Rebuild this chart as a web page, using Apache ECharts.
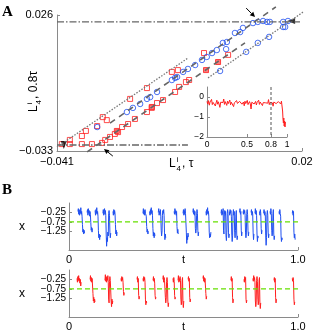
<!DOCTYPE html>
<html>
<head>
<meta charset="UTF-8">
<title>L4 scatter and x(t) traces</title>
<script src="https://cdn.jsdelivr.net/npm/echarts@6/dist/echarts.min.js"></script>
<style>
  html, body { margin: 0; padding: 0; background: #fff; }
  #chart { width: 332px; height: 336px; }
</style>
</head>
<body>
<div id="chart"></div>
<script>
// ---------- panel A : main scatter ----------
const mainXTicks = [-0.041, 0.02];
const mainYTicks = [-0.033, 0.026];

// open red squares, upper branch (along upper dotted line)
const redUpper = [
  [-0.0398, -0.0300], [-0.0378, -0.0282], [-0.0348, -0.0265], [-0.0338, -0.0243],
  [-0.0310, -0.0222], [-0.0296, -0.0183], [-0.0286, -0.0196], [-0.0228, -0.0104],
  [-0.0186, -0.0057], [-0.0124, 0.0013], [-0.0109, 0.0021], [-0.0044, 0.0095],
  [0.0016, 0.0087]
];
// open red squares, lower branch
const redLower = [
  [-0.0378, -0.0300], [-0.0348, -0.0300], [-0.0323, -0.0300], [-0.0298, -0.0295],
  [-0.0290, -0.0282], [-0.0278, -0.0269], [-0.0266, -0.0256], [-0.0258, -0.0248],
  [-0.0248, -0.0226], [-0.0233, -0.0213], [-0.0216, -0.0191], [-0.0186, -0.0161],
  [-0.0174, -0.0143], [-0.0161, -0.0122], [-0.0146, -0.0109], [-0.0116, -0.0074],
  [-0.0106, -0.0052], [-0.0089, -0.0031], [-0.0081, -0.0022]
];
// filled red squares
const redFilled = [
  [-0.0261, -0.0243], [-0.0174, -0.0139], [-0.0039, 0.0021], [-0.0009, 0.0056]
];
// open blue circles, upper branch
const blueUpper = [
  [-0.0310, -0.0226], [-0.0236, -0.0161], [-0.0221, -0.0143], [-0.0203, -0.0126],
  [-0.0186, -0.0104], [-0.0178, -0.0096], [-0.0161, -0.0074], [-0.0124, -0.0022],
  [-0.0116, -0.0013], [-0.0111, -0.0009], [-0.0096, 0.0013], [-0.0084, 0.0026],
  [-0.0066, 0.0043], [-0.0049, 0.0065], [-0.0037, 0.0078], [-0.0024, 0.0095],
  [-0.0012, 0.0108], [0.0003, 0.0139], [0.0013, 0.0143], [0.0011, 0.0112],
  [0.0033, 0.0182], [0.0046, 0.0186], [0.0053, 0.0204], [0.0078, 0.0225],
  [0.0090, 0.0230], [0.0103, 0.0234], [0.0113, 0.0230], [0.0120, 0.0230],
  [0.0153, 0.0230], [0.0165, 0.0234], [0.0158, 0.0208]
];
// open blue circles, lower branch
const blueLower = [
  [-0.0004, 0.0017], [0.0061, 0.0100], [0.0090, 0.0139], [0.0118, 0.0165], [0.0153, 0.0208]
];

// reference lines (end points in data units)
const dashDotTop = [[-0.041, 0.0230], [0.0195, 0.0230]];
const dashDotBottom = [[-0.041, -0.0304], [-0.0084, -0.0304]];
const dottedUpper = [[-0.041, -0.0313], [-0.0084, 0.0073]];
const dashedMiddle = [[-0.0278, -0.0209], [0.0135, 0.0295]];
const dashedLower = [[-0.0335, -0.0334], [0.0058, 0.0139]];
const dottedLower = [[-0.0034, -0.0013], [0.0217, 0.0290]];

// black arrowheads [x, y, rotation deg]
const blackHeads = [[0.0173, 0.0234, 90], [-0.0393, -0.0304, 180]];
// annotation arrows [x1, y1, x2, y2]
const arrows = [
  [0.0061, 0.0290, 0.0083, 0.0251],
  [-0.0271, -0.0352, -0.0293, -0.0321]
];

// ---------- inset ----------
const insetXTicks = [0, 0.5, 0.8, 1];
const insetYTicks = [-2, -1, 0];
const insetMarkT = 0.8;
const insetVals = [
  -0.22, -0.35, -0.18, -0.41, -0.25, -0.30, -0.12, -0.38, -0.27, -0.33,
  -0.20, -0.45, -0.29, -0.16, -0.36, -0.24, -0.31, -0.52, -0.26, -0.19,
  -0.34, -0.28, -0.10, -0.37, -0.23, -0.30, -0.42, -0.21, -0.33, -0.27,
  -0.15, -0.39, -0.26, -0.31, -0.20, -0.48, -0.29, -0.24, -0.35, -0.18,
  -0.32, -0.26, -0.40, -0.22, -0.30, -0.14, -0.36, -0.28, -0.25, -0.44,
  -0.21, -0.33, -0.27, -0.17, -0.38, -0.29, -0.23, -0.34, -0.60, -0.26,
  -0.31, -0.19, -0.35, -0.28, -0.22, -0.40, -0.27, -0.32, -0.16, -0.37,
  -0.25, -0.30, -0.21, -0.43, -0.28, -0.34, -0.20, -0.29, -0.36, -0.24,
  -0.31, -0.13, -0.38, -0.27, -0.22, -0.35, -0.29, -0.46, -0.25, -0.30,
  -0.18, -0.33, -0.27, -0.39, -0.23, -0.31, -0.26, -0.35, -0.21, -0.30
];
const insetTail = [
  [0.945, -0.70], [0.950, -1.10], [0.955, -1.30], [0.960, -1.05],
  [0.965, -1.45], [0.970, -1.20], [0.975, -1.50], [0.980, -1.25]
];

// ---------- panel B : x(t) traces ----------
const bYTicks = [-1.25, -0.75, -0.25];
const bYLabelsOuter = [-1.25, -0.25];
const bYLabelsMid = [-0.75];
const bXTicks = [0, 1];
const threshold = -0.75;
const burstStep = 0.0018; // sampling step inside a burst

// [start t, sampled x values]
const blueBursts = [
  [0.039, [-0.2, -0.05, -0.35, -0.1, -0.4, -0.15, -0.3, 0.0, -0.35, -0.2, -0.45, -0.9, -1.3, -1.15, -1.4, -1.2, -1.35]],
  [0.079, [-0.25, -0.1, -0.4, -0.05, -0.3, -0.15, -0.45, -0.2, -0.35, -0.8, -1.2, -1.05, -1.3, -1.1]],
  [0.114, [-0.15, -0.4, -0.1, -0.3, 0.0, -0.35, -0.2, -0.45, -1.2, -1.6, -1.4, -1.7, -1.45, -1.55]],
  [0.148, [-0.3, -0.1, -0.4, -0.2, -0.05, -0.35, -0.15, -0.4, -1.4, -2.05, -1.6, -1.8, -1.3, -1.5, -0.3, -0.15, -0.4, -1.3, -1.6, -1.35]],
  [0.192, [-0.2, -0.4, -0.1, -0.35, -0.15, -0.3, -0.9, -1.4, -1.2, -1.5, -1.3]],
  [0.323, [-0.3, -0.05, -0.35, -0.15, -0.4, -0.1, -0.3, -0.2, -0.45, -1.0, -1.3, -1.15, -1.4, -1.25]],
  [0.352, [-0.2, -0.4, -0.1, -0.35, 0.0, -0.3, -0.15, -0.4, -1.1, -1.5, -1.3, -1.6, -1.35, -1.5]],
  [0.390, [-0.25, -0.05, -0.4, -0.2, -0.35, -0.1, -0.45, -1.2, -1.5, -1.3, -0.4, -0.15, -0.3, -0.1, -0.4, -1.3, -1.7, -1.4, -1.6]],
  [0.459, [-0.2, -0.35, -0.05, -0.3, -0.15, -0.4, -0.2, -1.0, -1.35, -1.15, -1.4]],
  [0.498, [-0.3, -0.1, -0.4, -0.15, -0.35, -0.05, -0.3, -0.2, -1.3, -1.9, -1.5, -1.7, -1.35, -1.55]],
  [0.541, [-0.25, -0.05, -0.35, -0.15, -0.4, -0.2, -1.1, -1.35, -1.2, -0.4, -0.1, -0.3, -1.2, -1.5, -1.3]],
  [0.598, [-0.2, -0.4, -0.1, -0.3, 0.0, -0.35, -0.2, -0.45, -1.3, -1.6, -1.4, -1.55, -1.3]],
  [0.664, [-0.3, -0.1, -0.4, -0.2, -0.35, -0.05, -1.2, -1.4, -0.35, -0.15, -0.4, -0.2, -1.5, -1.75, -1.3, -0.3, -0.1, -0.35, -1.3, -1.6, -1.4]],
  [0.700, [-0.2, -0.4, -0.1, -0.3, -0.15, -0.45, -1.4, -1.8, -1.5, -0.3, -0.1, -0.4, -0.2, -1.3, -1.6, -1.2, -0.35, -0.15, -1.4, -1.7, -1.5]],
  [0.745, [-0.25, -0.05, -0.35, -0.2, -1.2, -1.5, -1.3]],
  [0.760, [-0.2, -0.35, -0.1, -0.3, -0.15, -0.4, -1.3, -1.6, -1.4, -0.3, -0.1, -0.35, -1.2, -1.5, -1.3]],
  [0.795, [-0.25, -0.1, -0.4, -0.2, -0.35, -1.3, -1.7, -1.4]],
  [0.812, [-0.3, -0.05, -0.35, -0.15, -0.4, -1.4, -1.8, -1.5, -1.6]],
  [0.832, [-0.2, -0.4, -0.1, -0.3, -1.1, -1.4, -1.2]],
  [0.850, [-0.3, -0.1, -0.4, -0.2, -0.35, -1.5, -2.0, -1.6, -0.35, -0.15, -0.4, -1.3, -1.6, -1.4]],
  [0.878, [-0.2, -0.35, -0.05, -0.3, -1.2, -1.5, -1.3, -0.3, -0.1, -1.4, -1.7, -1.5]],
  [0.917, [-0.2, -0.35, -0.1, -0.3, -0.45, -1.5, -1.8, -1.6, -1.7]],
  [0.975, [-0.3, -0.15, -0.4, -0.2, -1.3, -1.6, -1.4, -1.7]]
];

const redBursts = [
  [0.035, [-0.2, -0.4, -0.1, -0.3, -0.05, -0.35, -0.2, -0.45, -0.25, -0.6, -0.4]],
  [0.092, [-0.25, -0.05, -0.35, -0.15, -0.4, -0.2, -0.3, -1.0, -1.4, -1.2, -1.5, -1.3, -1.45]],
  [0.157, [-0.3, 0.0, -0.35, -0.1, -0.4, -0.15, -0.3, -0.05, -0.4, -1.3, -1.5, -0.35, -0.1, -0.3, -0.2, -1.4, -1.7, -1.3, -1.55, -1.4]],
  [0.227, [-0.2, -0.35, -0.1, -0.3, -0.15, -0.4, -0.9, -1.1, -0.95]],
  [0.297, [-0.25, -0.1, -0.4, -0.2, -1.1, -1.3, -1.15]],
  [0.323, [-0.2, -0.35, -0.1, -0.3, -0.15, -0.4, -1.3, -1.6, -1.4, -1.5]],
  [0.367, [-0.3, -0.1, -0.35, -0.2, -0.45, -1.1, -1.3, -1.2]],
  [0.410, [-0.25, -0.05, -0.4, -0.15, -0.3, -0.2, -1.2, -1.5, -1.3, -0.35, -0.15, -0.4, -1.4, -1.7, -1.5]],
  [0.454, [-0.2, -0.4, -0.15, -0.35, -1.1, -1.3, -1.2]],
  [0.476, [-0.3, -0.05, -0.4, -0.2, -0.35, -0.1, -0.3, -1.3, -1.6, -1.4, -0.3, -0.15, -1.5, -1.75, -1.4]],
  [0.520, [-0.25, -0.1, -0.35, -0.2, -1.2, -1.45, -1.3]],
  [0.585, [-0.2, -0.05, -0.35, -0.15, -0.4, -0.2, -0.3, -1.0, -1.3, -1.15]],
  [0.707, [-0.3, -0.1, -0.35, -0.2, -1.2, -1.5, -1.3]],
  [0.764, [-0.25, -0.4, -0.1, -0.3, -0.15, -1.3, -1.5, -1.35]],
  [0.803, [-0.2, -0.35, -0.05, -0.3, -0.15, -0.4, -1.4, -1.7, -1.5, -0.3, -0.1, -0.35, -1.3, -1.6, -1.4, -0.3, -0.15, -1.5, -1.8, -1.5]],
  [0.895, [-0.3, -0.15, -0.4, -0.2, -1.2, -1.5, -1.3]],
  [0.975, [-0.2, -0.35, -0.15, -0.3, -1.3, -1.6, -1.45]]
];

// ---------- helpers ----------
const FONT = '"Liberation Sans", Arial, sans-serif';
const AXIS_GRAY = '#8a8a8a';
const RED = '#ff1f1f';
const BLUE = '#2050f0';

const minus = s => String(s).replace('-', '\u2212');

// bursts -> one line series with gaps between bursts
function flatten(bursts) {
  const out = [];
  bursts.forEach(([t0, vals]) => {
    vals.forEach((v, i) => out.push([t0 + i * burstStep, v]));
    out.push([t0 + vals.length * burstStep, '-']);
  });
  return out;
}

function axisBase(gridIndex, min, max, ticks, fmt, fontSize, margin, labels) {
  return {
    gridIndex: gridIndex, type: 'value', min: min, max: max,
    axisLine: { onZero: false, lineStyle: { color: AXIS_GRAY, width: 1 } },
    axisTick: { inside: true, length: 3, customValues: ticks, lineStyle: { color: AXIS_GRAY } },
    axisLabel: { customValues: labels || ticks, formatter: fmt, color: '#000', fontSize: fontSize,
                 fontFamily: FONT, margin: margin, hideOverlap: false,
                 showMinLabel: true, showMaxLabel: true },
    splitLine: { show: false }
  };
}

// label-only y axis for the middle B tick (kept apart so it is not hidden by overlap)
function midLabelAxis(gridIndex) {
  return {
    gridIndex: gridIndex, type: 'value', min: -2.25, max: 0.25, position: 'left', offset: 0,
    axisLine: { show: false }, axisTick: { show: false }, splitLine: { show: false },
    axisLabel: { customValues: bYLabelsMid, formatter: v => minus(v.toFixed(2)), color: '#000',
                 fontSize: 10, fontFamily: FONT, margin: 3 }
  };
}

function refLine(data, type, color, width) {
  return {
    type: 'line', xAxisIndex: 0, yAxisIndex: 0, data: data, symbol: 'none', clip: false,
    silent: true,
    lineStyle: { color: color, width: width, type: type }
  };
}

function openMarks(data, symbol, color, size) {
  return {
    type: 'scatter', xAxisIndex: 0, yAxisIndex: 0, data: data, symbol: symbol,
    symbolSize: size,
    itemStyle: { color: 'rgba(0,0,0,0)', borderColor: color, borderWidth: 1 }
  };
}

function renderArrow(params, api) {
  const a = api.coord([api.value(0), api.value(1)]);
  const b = api.coord([api.value(2), api.value(3)]);
  const ang = Math.atan2(b[1] - a[1], b[0] - a[0]);
  const h = 5, w = 2.5;
  const bx = b[0] - h * Math.cos(ang), by = b[1] - h * Math.sin(ang);
  const pts = [b, [bx + w * Math.sin(ang), by - w * Math.cos(ang)],
               [bx - w * Math.sin(ang), by + w * Math.cos(ang)]];
  return {
    type: 'group', children: [
      { type: 'line', shape: { x1: a[0], y1: a[1], x2: bx, y2: by }, style: { stroke: '#000', lineWidth: 1 } },
      { type: 'polygon', shape: { points: pts }, style: { fill: '#000' } }
    ]
  };
}

const insetData = insetVals.map((v, i) => [i * 0.94 / (insetVals.length - 1), v]).concat(insetTail);

function subLabel(x, y, rot, tail) {
  const f = s => s + 'px ' + FONT;
  return {
    type: 'group', x: x, y: y, rotation: rot, children: [
      { type: 'text', x: 0, y: 0, style: { text: 'L', font: f(12), fill: '#000', textVerticalAlign: 'bottom' } },
      { type: 'text', x: 7.5, y: -6, style: { text: 'i', font: f(8), fill: '#000', textVerticalAlign: 'bottom' } },
      { type: 'text', x: 7.5, y: 3, style: { text: '4', font: f(8), fill: '#000', textVerticalAlign: 'bottom' } },
      { type: 'text', x: 13, y: 0, style: { text: tail, font: f(12), fill: '#000', textVerticalAlign: 'bottom' } }
    ]
  };
}

const tName = {
  name: 't', nameLocation: 'middle', nameGap: 4, nameMoveOverlap: false,
  nameTextStyle: { color: '#000', fontSize: 11, fontFamily: FONT, verticalAlign: 'top' }
};

const chart = echarts.init(document.getElementById('chart'), null, { renderer: 'canvas' });

chart.setOption({
  backgroundColor: '#fff',
  animation: false,
  grid: [
    { left: 57, top: 15, width: 245, height: 136, outerBoundsMode: 'none' },
    { left: 207, top: 87, width: 80, height: 50, outerBoundsMode: 'none' },
    { left: 69, top: 203, width: 229, height: 47, outerBoundsMode: 'none' },
    { left: 69, top: 270, width: 229, height: 47, outerBoundsMode: 'none' }
  ],
  xAxis: [
    axisBase(0, -0.041, 0.02, mainXTicks, v => minus(+v.toFixed(3)), 11, 5),
    axisBase(1, 0, 1, insetXTicks, v => String(+v.toFixed(1)), 8.5, 3),
    Object.assign(axisBase(2, 0, 1, bXTicks, v => (v === 0 ? '0' : '1.0'), 11, 4), tName),
    Object.assign(axisBase(3, 0, 1, bXTicks, v => (v === 0 ? '0' : '1.0'), 11, 4), tName)
  ],
  yAxis: [
    axisBase(0, -0.033, 0.026, mainYTicks, v => minus(+v.toFixed(3)), 11, 4),
    axisBase(1, -2, 0.5, insetYTicks, v => minus(v), 8.5, 3),
    Object.assign(axisBase(2, -2.25, 0.25, bYTicks, v => minus(v.toFixed(2)), 10, 3, bYLabelsOuter), { position: 'left' }),
    Object.assign(axisBase(3, -2.25, 0.25, bYTicks, v => minus(v.toFixed(2)), 10, 3, bYLabelsOuter), { position: 'left' }),
    midLabelAxis(2),
    midLabelAxis(3)
  ],
  series: [
    refLine(dashDotTop, [7, 2, 1.5, 2], '#666', 1.3),
    refLine(dashDotBottom, [7, 2, 1.5, 2], '#666', 1.3),
    refLine(dottedUpper, [1.5, 1.5], '#777', 1.3),
    refLine(dashedMiddle, [6, 5], '#666', 1.6),
    refLine(dashedLower, [6, 5], '#666', 1.6),
    refLine(dottedLower, [1.5, 1.5], '#777', 1.3),
    openMarks(redUpper, 'rect', RED, 5),
    openMarks(redLower, 'rect', RED, 5),
    {
      type: 'scatter', xAxisIndex: 0, yAxisIndex: 0, data: redFilled, symbol: 'rect',
      symbolSize: 5, itemStyle: { color: '#ff5a5a', borderColor: RED, borderWidth: 1 }
    },
    openMarks(blueUpper, 'circle', BLUE, 5.5),
    openMarks(blueLower, 'circle', BLUE, 5.5),
    {
      type: 'scatter', xAxisIndex: 0, yAxisIndex: 0, symbol: 'triangle', symbolSize: [6, 8],
      data: blackHeads.map(d => ({ value: [d[0], d[1]], symbolRotate: d[2] })),
      itemStyle: { color: '#000' }
    },
    {
      type: 'custom', xAxisIndex: 0, yAxisIndex: 0, data: arrows, renderItem: renderArrow,
      encode: { x: [0, 2], y: [1, 3] }, clip: false, silent: true
    },
    // inset
    {
      type: 'line', xAxisIndex: 1, yAxisIndex: 1, data: insetData, symbol: 'none',
      lineStyle: { color: RED, width: 1 }
    },
    {
      type: 'line', xAxisIndex: 1, yAxisIndex: 1, data: [[insetMarkT, 0.5], [insetMarkT, -2]],
      symbol: 'none', lineStyle: { color: '#555', width: 1, type: [3, 2] }
    },
    // panel B
    {
      type: 'line', xAxisIndex: 2, yAxisIndex: 2, data: flatten(blueBursts), symbol: 'none',
      connectNulls: false, lineStyle: { color: BLUE, width: 1 }
    },
    {
      type: 'line', xAxisIndex: 2, yAxisIndex: 2, data: [[0, threshold], [1, threshold]],
      symbol: 'none', lineStyle: { color: '#66e000', width: 1.2, type: [5, 3] }
    },
    {
      type: 'line', xAxisIndex: 3, yAxisIndex: 3, data: flatten(redBursts), symbol: 'none',
      connectNulls: false, lineStyle: { color: RED, width: 1 }
    },
    {
      type: 'line', xAxisIndex: 3, yAxisIndex: 3, data: [[0, threshold], [1, threshold]],
      symbol: 'none', lineStyle: { color: '#66e000', width: 1.2, type: [5, 3] }
    }
  ],
  graphic: [
    { type: 'text', x: 2, y: 5, style: { text: 'A', font: 'bold 15px "Liberation Serif", serif', fill: '#000' } },
    { type: 'text', x: 2, y: 183, style: { text: 'B', font: 'bold 15px "Liberation Serif", serif', fill: '#000' } },
    subLabel(40, 112, Math.PI / 2, ', 0.8\u03c4'),
    subLabel(169, 170, 0, ', \u03c4'),
    { type: 'text', x: 22, y: 227, style: { text: 'x', font: '12px ' + FONT, fill: '#000',
      textAlign: 'center', textVerticalAlign: 'middle' } },
    { type: 'text', x: 22, y: 294, style: { text: 'x', font: '12px ' + FONT, fill: '#000',
      textAlign: 'center', textVerticalAlign: 'middle' } }
  ]
});
</script>
</body>
</html>
